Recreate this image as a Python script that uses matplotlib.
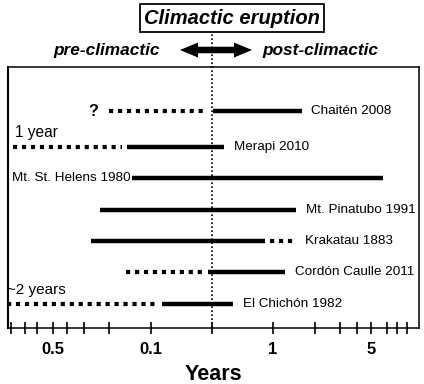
import numpy as np
import matplotlib
matplotlib.use("Agg")
import matplotlib.pyplot as plt
from matplotlib.patches import FancyArrow

plt.rcParams['font.family'] = ['Liberation Sans', 'DejaVu Sans']

# eruption timelines, years relative to the climactic phase (negative = before)
names = ["Chaitén 2008", "Merapi 2010", "Mt. St. Helens 1980", "Mt. Pinatubo 1991",
         "Krakatau 1883", "Cordón Caulle 2011", "El Chichón 1982"]
solid_start = [0.015, -0.148, -0.137, -0.23, -0.27, -0.006, -0.082]
solid_end = [1.6, 0.2, 6.1, 1.46, 0.87, 1.22, 0.34]

# uncertain (dotted) parts: row index, start, end
dot_row = [0, 1, 4, 5, 6]
dot_start = [-0.2, -0.97, 0.95, -0.15, -1.07]
dot_end = [-0.008, -0.16, 1.44, -0.01, -0.09]

major_ticks = [-0.5, -0.1, 1, 5]
major_labels = ["0.5", "0.1", "1", "5"]
minor_ticks = [-1.0, -0.8, -0.65, -0.4, -0.3, -0.2, 0, 2, 3, 4, 6.5, 7.7, 9]


# axis: pre-climactic log side, short linear middle, post-climactic log side
def fwd(t):
    t = np.asarray(t, dtype=float)
    s = np.abs(t)
    pos = np.where(t >= 1, 61 + 140 * np.log10(np.maximum(t, 1e-12)), 61 * t)
    neg = np.where(s >= 0.1, -(61 + 140 * np.log10(np.maximum(s / 0.1, 1e-12))), -610 * s)
    return np.where(t >= 0, pos, neg)


def inv(u):
    u = np.asarray(u, dtype=float)
    e_pos = np.clip((u - 61) / 140, -50, 50)
    e_neg = np.clip((-u - 61) / 140, -50, 50)
    pos = np.where(u >= 61, 10 ** e_pos, u / 61)
    neg = np.where(u <= -61, -0.1 * 10 ** e_neg, u / 610)
    return np.where(u >= 0, pos, neg)


rows = [-0.15, 1, 2, 3, 4, 5, 6]

fig = plt.figure(figsize=(4.24, 3.84), dpi=100)
ax = fig.add_axes([8 / 424, 1 - 328 / 384, 411 / 424, 261 / 384])
ax.set_xscale('function', functions=(fwd, inv))
ax.set_xlim(-1.05, 11.0)
ax.set_ylim(6.78, -1.556)

for i, name in enumerate(names):
    ax.plot([solid_start[i], solid_end[i]], [rows[i], rows[i]], color='black',
            lw=3.2, solid_capstyle='butt')

for r, a, b in zip(dot_row, dot_start, dot_end):
    ax.plot([a, b], [rows[r], rows[r]], color='black', lw=3.0,
            ls=(0, (1.0, 1.15)), dash_capstyle='butt')

# eruption labels
for i, name in enumerate(names):
    if name.startswith("Mt. St."):
        ax.annotate(name, (solid_start[i], rows[i]), xytext=(-1, 0),
                    textcoords='offset points', ha='right', va='center', fontsize=9.7)
    else:
        right = solid_end[i]
        for r, b in zip(dot_row, dot_end):
            if r == i:
                right = max(right, b)
        ax.annotate(name, (right, rows[i]), xytext=(7, 0),
                    textcoords='offset points', ha='left', va='center', fontsize=9.7)

ax.annotate("?", (dot_start[0], rows[0]), xytext=(-8, 0), textcoords='offset points',
            ha='right', va='center', fontsize=11.5, fontweight='bold')
ax.text(7 / 411, 1 - (133 - 67) / 261, "1 year", transform=ax.transAxes,
        ha='left', va='center', fontsize=11.2)
ax.text(-1 / 411, 1 - (290 - 67) / 261, "~2 years", transform=ax.transAxes,
        ha='left', va='center', fontsize=11)

# climactic eruption line
ax.axvline(0, ymin=0, ymax=(328 - 33) / 261, color='black', lw=1.2,
           ls=(0, (1, 1.4)), clip_on=False)

ax.set_xticks(major_ticks)
ax.set_xticklabels(major_labels, fontsize=12, fontweight='bold')
ax.set_xticks(minor_ticks, minor=True)
ax.tick_params(axis='x', which='both', direction='inout', length=8, width=1.2, pad=6)
ax.set_yticks([])
ax.set_xlabel("Years", fontsize=15.5, fontweight='bold', labelpad=5)
for sp in ax.spines.values():
    sp.set_linewidth(1.1)
ax.spines['left'].set_linewidth(1.5)

fig.text(232 / 424, 1 - 18 / 384, "Climactic eruption", ha='center', va='center',
         fontsize=14.5, fontweight='bold', style='italic',
         bbox=dict(boxstyle='square,pad=0.2', fc='white', ec='black', lw=1.3))
fig.text(107 / 424, 1 - 51 / 384, "pre-climactic", ha='center', va='center',
         fontsize=12.4, fontweight='bold', style='italic')
fig.text(320 / 424, 1 - 51 / 384, "post-climactic", ha='center', va='center',
         fontsize=12.4, fontweight='bold', style='italic')

# double-headed arrow, drawn in inches from its centre outward
cx, cy = 2.16, 3.34
for d in (-0.36, 0.36):
    fig.patches.append(FancyArrow(cx, cy, d, 0, width=0.065, head_width=0.15,
                                  head_length=0.18, length_includes_head=True,
                                  transform=fig.dpi_scale_trans, color='black', lw=0))

fig.savefig("out.png", dpi=100)
